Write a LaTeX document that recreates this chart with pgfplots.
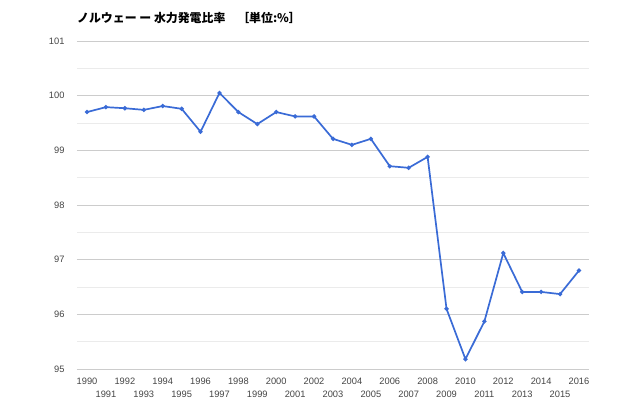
\documentclass[border=0pt]{standalone}
\usepackage{fontspec}
\setmainfont{Liberation Sans}
\newfontfamily\cjk{Noto Sans CJK JP}
\usepackage{pgfplots}
\pgfplotsset{compat=1.18}
\definecolor{lineblue}{HTML}{3A6BD6}
\definecolor{ticktxt}{HTML}{444444}
\definecolor{gridmaj}{HTML}{CCCCCC}
\definecolor{gridmin}{HTML}{EBEBEB}

\begin{document}
\begin{tikzpicture}
\begin{axis}[
    scale only axis,
    width=512pt, height=328pt,
    xmin=1989.47, xmax=2016.53,
    ymin=95, ymax=101,
    ytick={95,96,...,101},
    minor y tick num=1,
    ymajorgrids, yminorgrids,
    major grid style={gridmaj, line width=0.8pt},
    minor grid style={gridmin, line width=0.8pt},
    axis line style={draw=none},
    tick style={draw=none},
    xtick={1990,1992,...,2016},
    extra x ticks={1991,1993,...,2015},
    extra x tick style={xticklabel style={yshift=-13pt}},
    /pgf/number format/1000 sep={},
    /pgf/number format/assume math mode=true,
    ticklabel style={font=\fontsize{9.3}{11}\selectfont, text=ticktxt},
    xticklabel style={yshift=-5pt},
    yticklabel style={xshift=-9pt},
    clip=false,
]
\addplot[lineblue, line width=1.7pt, mark=*, mark size=1.2pt,
         mark options={fill=lineblue, draw=lineblue}] coordinates {
    (1990,99.70) (1991,99.79) (1992,99.77) (1993,99.74) (1994,99.81)
    (1995,99.76) (1996,99.34) (1997,100.05) (1998,99.70) (1999,99.48)
    (2000,99.70) (2001,99.62) (2002,99.62) (2003,99.21) (2004,99.10)
    (2005,99.21) (2006,98.71) (2007,98.68) (2008,98.88) (2009,96.10)
    (2010,95.18) (2011,95.87) (2012,97.12) (2013,96.41) (2014,96.41)
    (2015,96.37) (2016,96.80)
};
\node[anchor=west, inner sep=0pt, font=\cjk\bfseries\fontsize{11.9}{13}\selectfont]
    at (rel axis cs:0,1) [yshift=23pt, xshift=0pt]
    {ノルウェー ー 水力発電比率　［単位:\%］};
\end{axis}
\path[use as bounding box] (-77pt,-42pt) rectangle (563pt,369pt);
\end{tikzpicture}
\end{document}
